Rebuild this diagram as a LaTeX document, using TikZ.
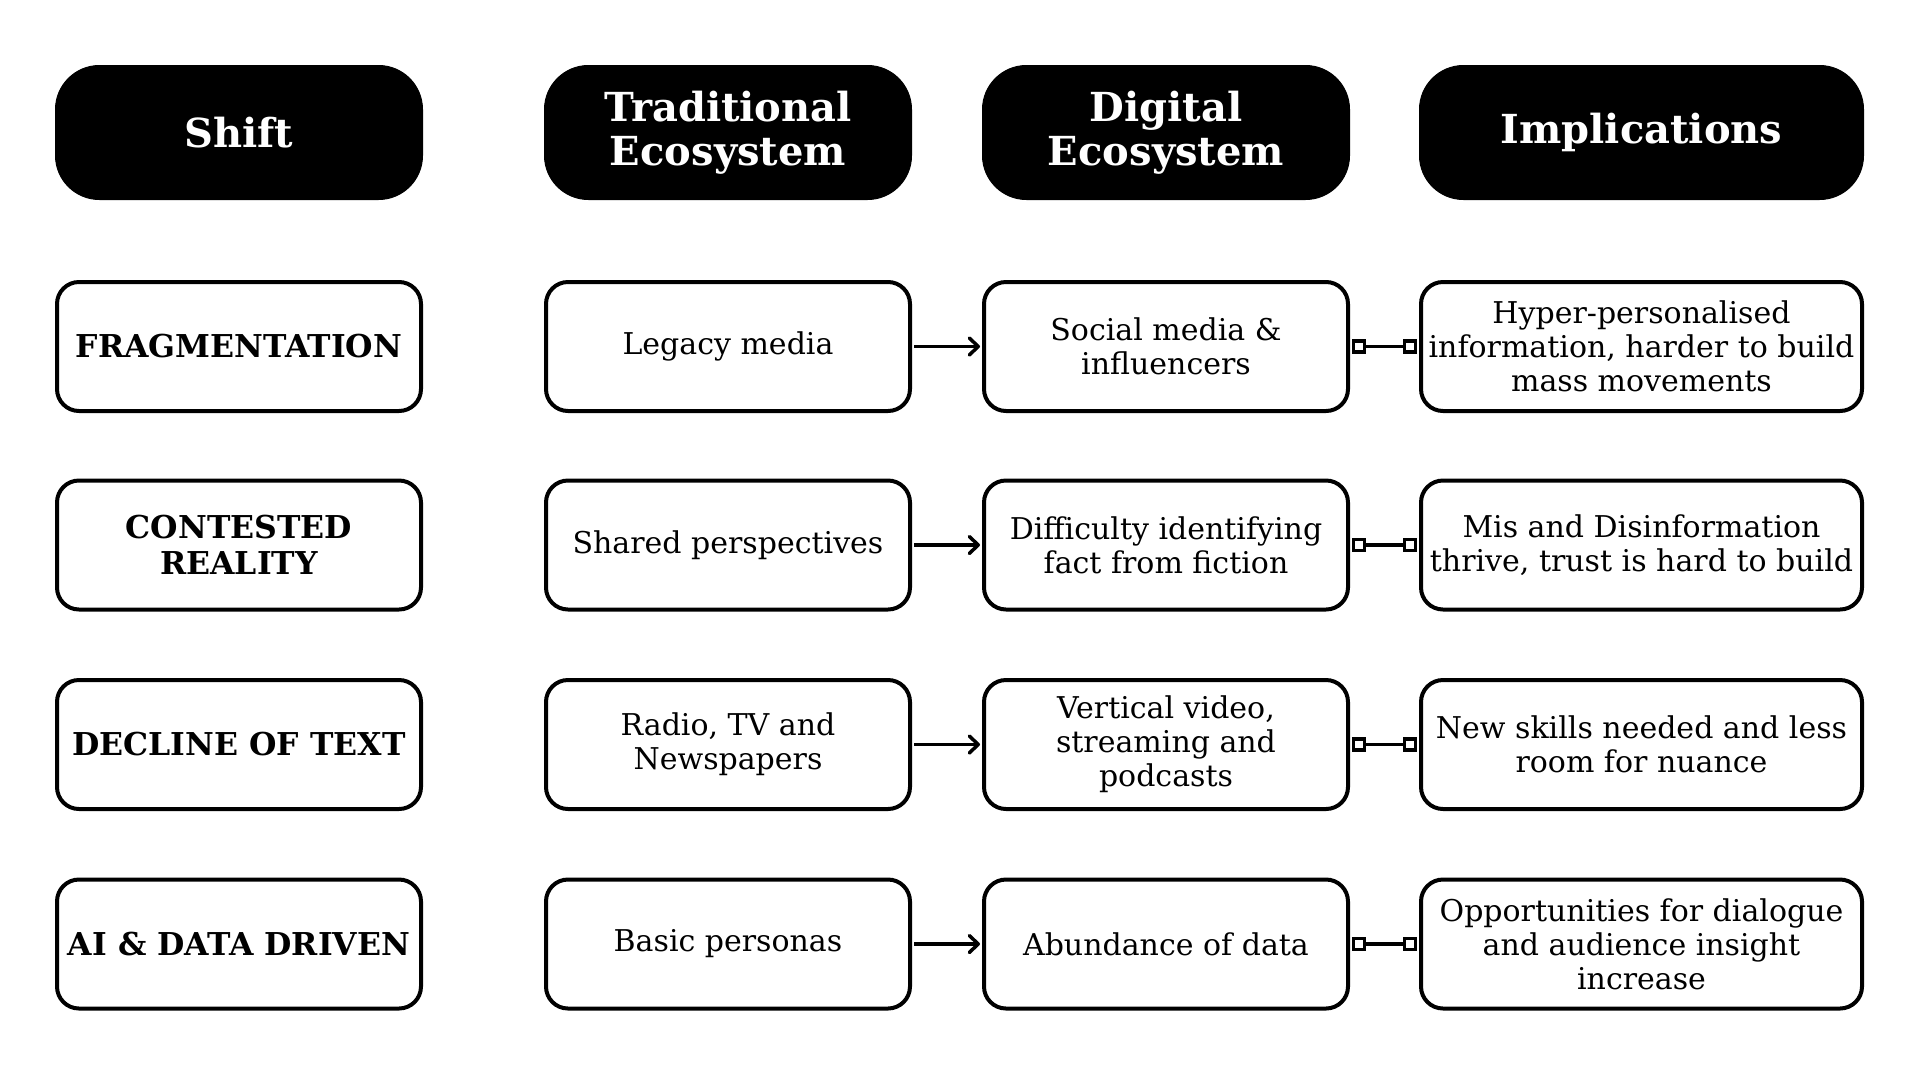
\documentclass[tikz,border=0pt]{standalone}
\usepackage{fontspec}
\setmainfont{DejaVu Serif}
\usetikzlibrary{arrows.meta}
\tikzset{
  hdr/.style={fill=black, draw=black, line width=1pt, rounded corners=44pt,
    minimum width=367pt, minimum height=134pt, text=white, align=center,
    font=\fontsize{40}{44}\selectfont\bfseries, inner sep=0pt},
  shiftbox/.style={draw=black, fill=white, line width=4pt, rounded corners=22pt,
    minimum width=364pt, minimum height=129pt, align=center,
    font=\fontsize{31.5}{36}\selectfont\bfseries, inner sep=0pt},
  cellbox/.style={draw=black, fill=white, line width=4pt, rounded corners=22pt,
    minimum width=364pt, minimum height=129pt, align=center,
    font=\fontsize{30}{34}\selectfont, inner sep=0pt},
  implbox/.style={cellbox, minimum width=441pt},
  flowarrow/.style={line width=3.5pt, -{Straight Barb[length=9pt,width=17pt,line cap=round,line join=round]}},
  linkline/.style={line width=3.5pt},
  sq/.style={draw=black, fill=white, line width=3.5pt, minimum width=11pt,
    minimum height=11pt, inner sep=0pt, outer sep=0pt}
}
\begin{document}
\begin{tikzpicture}[x=1pt,y=-1pt]
\useasboundingbox (0,0) rectangle (1920,1080);
% headers
\node[hdr] (hs) at (239,132.5) {Shift};
\node[hdr] (ht) at (728,132.5) {Traditional\\Ecosystem};
\node[hdr] (hd) at (1166,132.5) {Digital\\Ecosystem};
\node[hdr, minimum width=444pt] (hi) at (1641.5,132.5) {Implications};
% row 1
\node[shiftbox] (s1) at (239,346.5) {FRAGMENTATION};
\node[cellbox] (t1) at (728,346.5) {Legacy media};
\node[cellbox] (d1) at (1166,346.5) {Social media \&\\influencers};
\node[implbox] (i1) at (1641.5,346.5) {Hyper-personalised\\information, harder to build\\mass movements};
% row 2
\node[shiftbox] (s2) at (239,545) {CONTESTED\\REALITY};
\node[cellbox] (t2) at (728,545) {Shared perspectives};
\node[cellbox] (d2) at (1166,545) {Difficulty identifying\\fact from fiction};
\node[implbox] (i2) at (1641.5,545) {Mis and Disinformation\\thrive, trust is hard to build};
% row 3
\node[shiftbox] (s3) at (239,744.5) {DECLINE OF TEXT};
\node[cellbox] (t3) at (728,744.5) {Radio, TV and\\Newspapers};
\node[cellbox] (d3) at (1166,744.5) {Vertical video,\\streaming and\\podcasts};
\node[implbox] (i3) at (1641.5,744.5) {New skills needed and less\\room for nuance};
% row 4
\node[shiftbox] (s4) at (239,944) {AI \& DATA DRIVEN};
\node[cellbox] (t4) at (728,944) {Basic personas};
\node[cellbox] (d4) at (1166,944) {Abundance of data};
\node[implbox] (i4) at (1641.5,944) {Opportunities for dialogue\\and audience insight\\increase};
% connectors
\foreach \r in {1,2,3,4}{
  \draw[flowarrow] ([xshift=2pt]t\r.east) -- ([xshift=-2pt]d\r.west);
  \node[sq, anchor=west] (qa\r) at ([xshift=3.5pt]d\r.east) {};
  \node[sq, anchor=east] (qb\r) at ([xshift=-3.5pt]i\r.west) {};
  \draw[linkline] (qa\r) -- (qb\r);
}
\end{tikzpicture}
\end{document}
